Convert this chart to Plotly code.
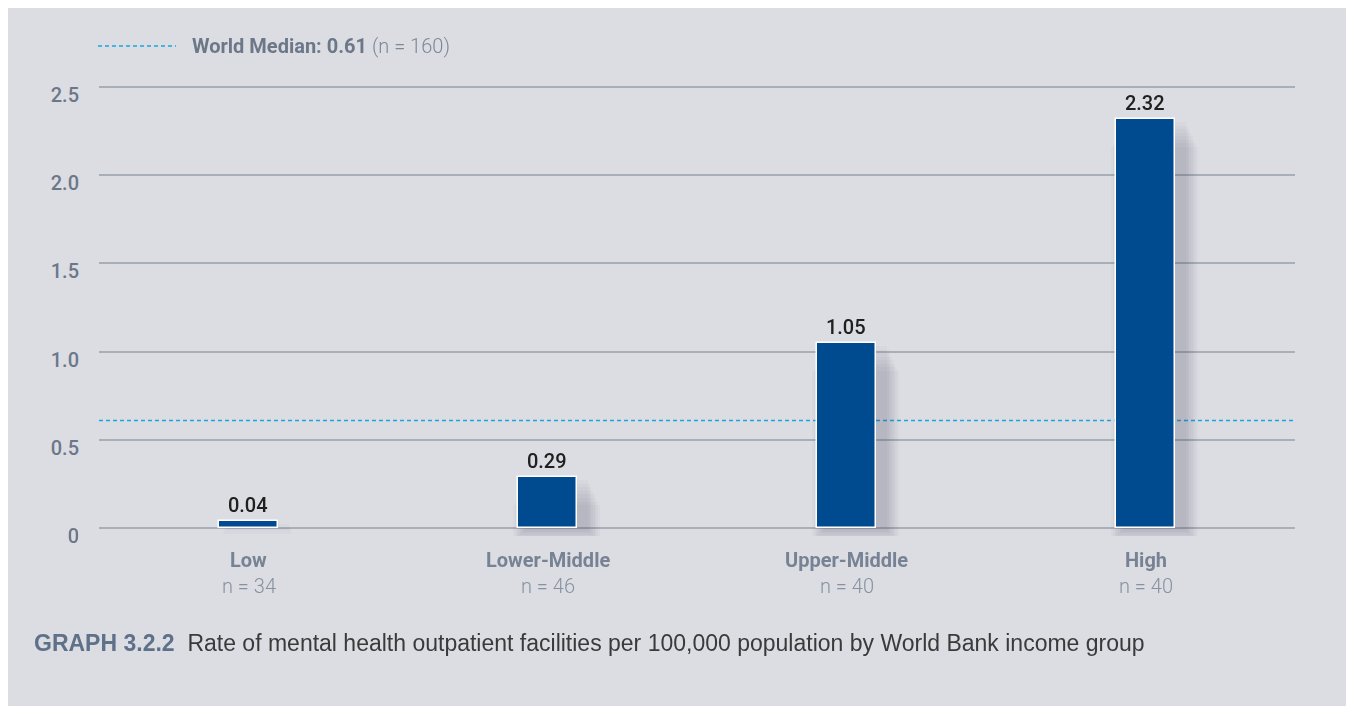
import plotly.graph_objects as go

categories = ["Low", "Lower-Middle", "Upper-Middle", "High"]
counts = ["n = 34", "n = 46", "n = 40", "n = 40"]
values = [0.04, 0.29, 1.05, 2.32]
median_value = 0.61
median_n = 160
y_ticks = [0, 0.5, 1.0, 1.5, 2.0, 2.5]
y_tick_labels = ["0", "0.5", "1.0", "1.5", "2.0", "2.5"]
caption_tag = "GRAPH 3.2.2"
caption_text = "Rate of mental health outpatient facilities per 100,000 population by World Bank income group"

# page body has an 8px margin; figure coordinates = screen - 8
W, H = 1338, 698
ML, MR, MT, MB = 91, 51, 72, 170
PW, PH = W - ML - MR, H - MT - MB

def px(x):
    return (x - ML) / PW

def py(y):
    return (H - MB - y) / PH

LAB = "Roboto, sans-serif"
BODY = "Liberation Sans, Arial, sans-serif"
BG = "#DCDDE2"
BAR = "#004A8F"
AXIS_TXT = "#6C7889"
MED = "#1AA5DE"

fig = go.Figure()

# soft shadow layers (behind bars), offset to the right
for i in range(8, 0, -1):
    w = 0.2 + 0.011 * i
    fig.add_trace(go.Bar(
        x=categories, y=[v - 0.01 * i for v in values], width=w, offset=0.03 - w / 2,
        base=-0.01 * i,
        marker=dict(color="#3A4560", line=dict(width=0)),
        opacity=0.035, hoverinfo="skip", showlegend=False,
    ))

fig.add_trace(go.Bar(
    x=categories, y=values, width=0.2, offset=-0.1,
    marker=dict(color=BAR, line=dict(color="white", width=1.5)),
    text=[f"{v:.2f}" for v in values], textposition="outside",
    textfont=dict(family=LAB, size=20, color="#202020", weight=500),
    cliponaxis=False, showlegend=False,
))

shapes = [
    dict(type="line", xref="paper", yref="y", x0=0, x1=1, y0=median_value, y1=median_value,
         line=dict(color=MED, width=1.5, dash="4px,3px"), layer="between"),
    dict(type="line", xref="paper", yref="paper", x0=px(90), x1=px(168), y0=py(38), y1=py(38),
         line=dict(color=MED, width=1.5, dash="4px,3px")),
]

annotations = [
    dict(xref="paper", yref="paper", x=px(182), y=py(38), xanchor="left", yanchor="middle",
         text=(f"<b>World Median: {median_value:.2f}</b> "
               f"<span style='font-weight:300;color:#7D8897'>(n = {median_n})</span>"),
         showarrow=False, font=dict(family=LAB, size=20, color=AXIS_TXT)),
    dict(xref="paper", yref="paper", x=px(24), y=py(635), xanchor="left", yanchor="middle",
         text=f"<span style='color:#5F7189'><b>{caption_tag}</b></span>&nbsp; {caption_text}",
         showarrow=False, font=dict(family=BODY, size=23, color="#3A3A3A")),
]
for c, n in zip(categories, counts):
    annotations.append(dict(xref="x", yref="paper", x=c, y=py(552), xanchor="center", yanchor="middle",
                            text=f"<b>{c}</b>", showarrow=False,
                            font=dict(family=LAB, size=20, color="#778394")))
    annotations.append(dict(xref="x", yref="paper", x=c, y=py(578), xanchor="center", yanchor="middle",
                            text=n, showarrow=False,
                            font=dict(family=LAB, size=20, color="#8792A0", weight=300)))

top_px, zero_px = 79, 520
upp = 2.5 / (zero_px - top_px)
ymin = -((H - MB) - zero_px) * upp
ymax = 2.5 + (top_px - MT) * upp

fig.update_layout(
    width=W, height=H,
    margin=dict(l=ML, r=MR, t=MT, b=MB),
    paper_bgcolor=BG, plot_bgcolor="rgba(0,0,0,0)",
    barmode="overlay", bargap=0,
    showlegend=False,
    shapes=shapes, annotations=annotations,
    xaxis=dict(showticklabels=False, showgrid=False, zeroline=False, ticks=""),
    yaxis=dict(range=[ymin, ymax], tickvals=y_ticks, ticktext=y_tick_labels,
               showgrid=True, gridcolor="#A8AFB8", gridwidth=2, zeroline=False,
               ticks="", ticklabelstandoff=19, ticklabelshift=8,
               tickfont=dict(family=LAB, size=20, color=AXIS_TXT, weight=500)),
)

fig.write_html("out.html")
